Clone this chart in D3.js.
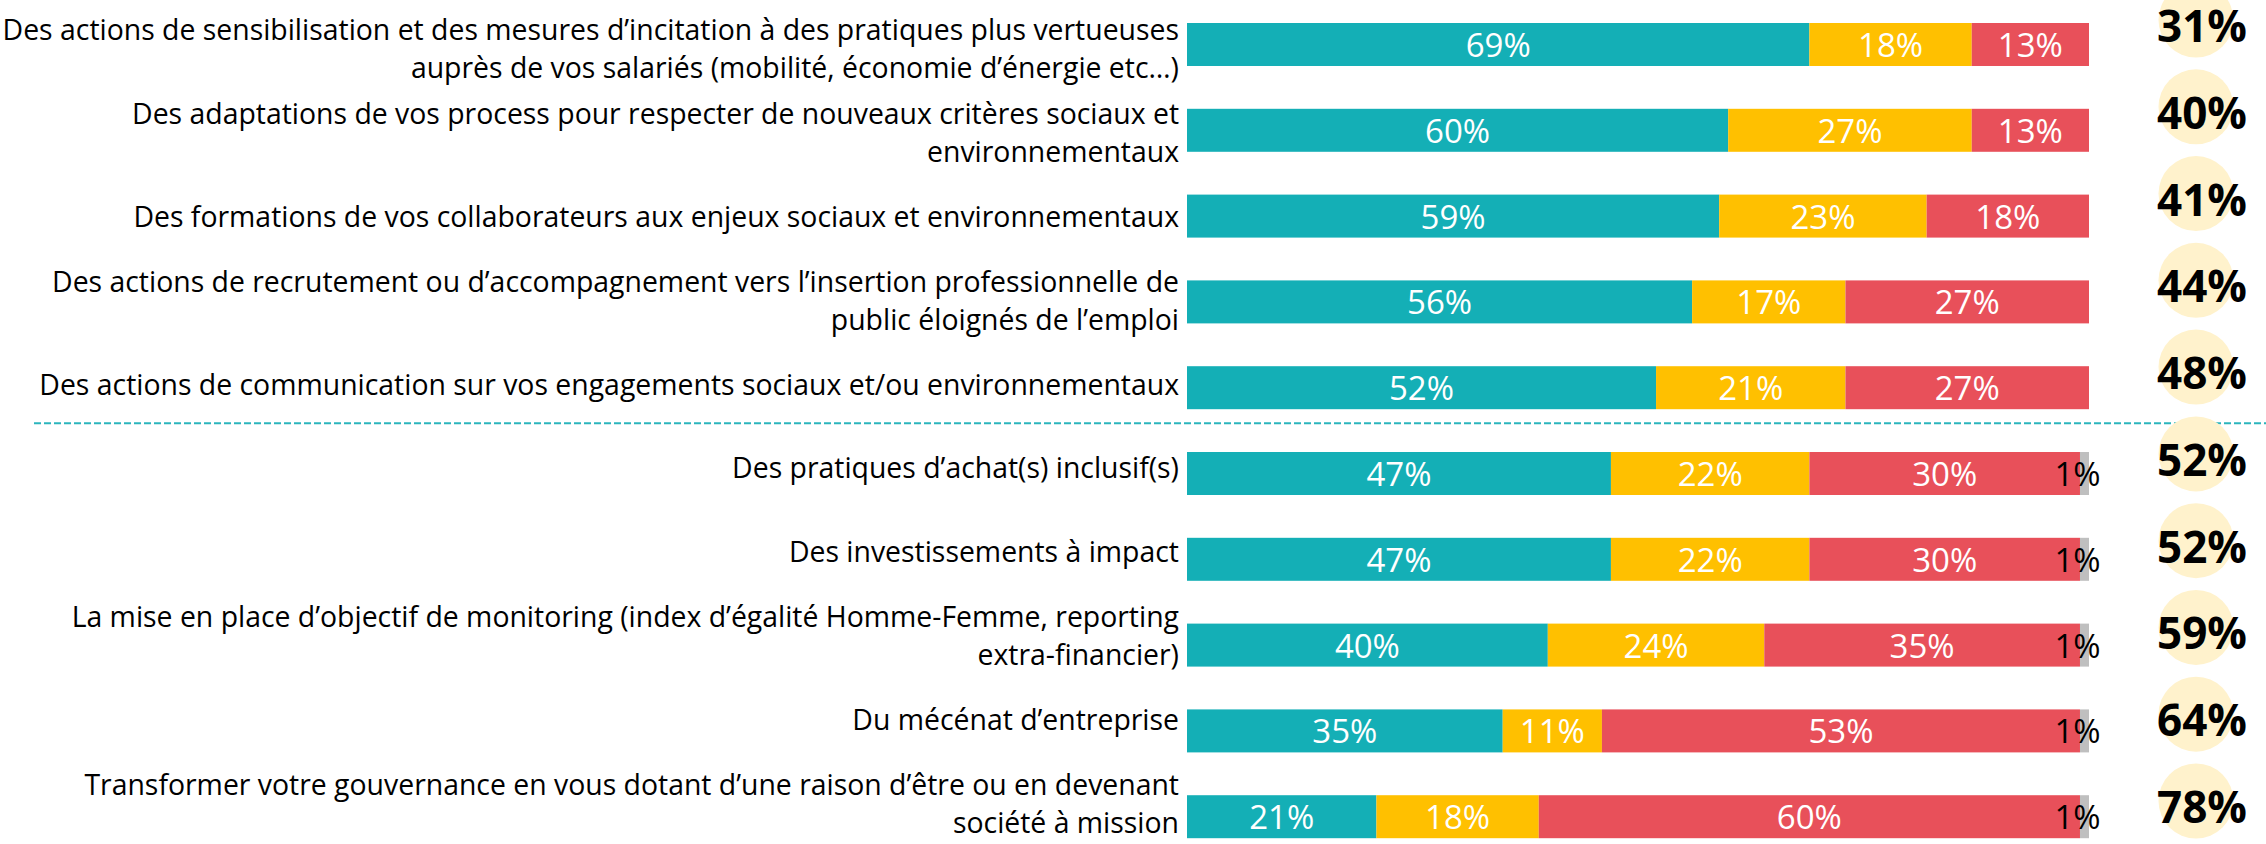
<!DOCTYPE html>
<html>
<head>
<meta charset="utf-8">
<script src="https://cdn.jsdelivr.net/npm/d3@7"></script>
<style>
  body { margin: 0; padding: 0; background: #fff; }
  svg { display: block; }
</style>
</head>
<body>
<div id="chart"></div>
<script>
  // row labels (already split into lines as in the original)
  const labels = [
    ["Des actions de sensibilisation et des mesures d’incitation à des pratiques plus vertueuses", "auprès de vos salariés (mobilité, économie d’énergie etc…)"],
    ["Des adaptations de vos process pour respecter de nouveaux critères sociaux et", "environnementaux"],
    ["Des formations de vos collaborateurs aux enjeux sociaux et environnementaux"],
    ["Des actions de recrutement ou d’accompagnement vers l’insertion professionnelle de", "public éloignés de l’emploi"],
    ["Des actions de communication sur vos engagements sociaux et/ou environnementaux"],
    ["Des pratiques d’achat(s) inclusif(s)"],
    ["Des investissements à impact"],
    ["La mise en place d’objectif de monitoring (index d’égalité Homme-Femme, reporting", "extra-financier)"],
    ["Du mécénat d’entreprise"],
    ["Transformer votre gouvernance en vous dotant d’une raison d’être ou en devenant", "société à mission"]
  ];
  const teal   = [69, 60, 59, 56, 52, 47, 47, 40, 35, 21];
  const yellow = [18, 27, 23, 17, 21, 22, 22, 24, 11, 18];
  const red    = [13, 13, 18, 27, 27, 30, 30, 35, 53, 60];
  const grey   = [0, 0, 0, 0, 0, 1, 1, 1, 1, 1];
  const totals = [31, 40, 41, 44, 48, 52, 52, 59, 64, 78];
  const splitAfter = 5; // dashed separator after the 5th row

  const width = 2266, height = 844;
  const series = [
    { key: "teal", values: teal, color: "#14afb6", text: "#fff" },
    { key: "yellow", values: yellow, color: "#ffc000", text: "#fff" },
    { key: "red", values: red, color: "#e8505a", text: "#fff" },
    { key: "grey", values: grey, color: "#bfbfbf", text: "#000" }
  ];

  const svg = d3.select("#chart").append("svg")
    .attr("width", width).attr("height", height);

  const x = d3.scaleLinear().domain([0, 100]).range([1187, 2089]);
  const y = d3.scaleBand().domain(d3.range(labels.length))
    .range([23, 838.2]).paddingInner(0.499).paddingOuter(0);
  // labels and circles are laid out on their own slightly different grids
  const yl = d3.scalePoint().domain(d3.range(labels.length)).range([59, 814]);
  const yc = d3.scalePoint().domain(d3.range(labels.length)).range([20, 801]);

  // stacked segments
  const rows = labels.map((l, i) => {
    let acc = 0;
    return series.map(s => {
      const seg = { row: i, x0: acc, x1: acc + s.values[i], v: s.values[i], s: s };
      acc += s.values[i];
      return seg;
    }).filter(d => d.v > 0);
  });
  const segs = rows.flat();

  svg.append("g").selectAll("rect").data(segs).enter().append("rect")
    .attr("x", d => x(d.x0))
    .attr("y", d => y(d.row))
    .attr("width", d => x(d.x1) - x(d.x0))
    .attr("height", y.bandwidth())
    .attr("fill", d => d.s.color);

  svg.append("g").selectAll("text").data(segs).enter().append("text")
    .attr("x", d => (x(d.x0) + x(d.x1)) / 2 - (d.s.key === "grey" ? 7 : 0))
    .attr("y", d => y(d.row) + y.bandwidth() / 2 + 12.5)
    .attr("text-anchor", "middle")
    .attr("font-family", "'Open Sans', sans-serif")
    .attr("font-size", 33)
    .attr("fill", d => d.s.text)
    .text(d => d.v + "%");

  // row labels, right aligned against the bars
  const lineH = 38;
  const lab = svg.append("g").selectAll("text").data(labels).enter().append("text")
    .attr("text-anchor", "end")
    .attr("font-family", "'Open Sans', sans-serif")
    .attr("font-size", 28.4)
    .attr("fill", "#000")
    .attr("y", (d, i) => yl(i) - (d.length - 1) * lineH / 2);
  lab.selectAll("tspan").data(d => d).enter().append("tspan")
    .attr("x", 1179)
    .attr("dy", (d, j) => j === 0 ? 0 : lineH)
    .text(d => d);

  // dashed separator
  const sepY = y(splitAfter - 1) + y.bandwidth() + (y.step() - y.bandwidth()) * 0.33;
  svg.append("line")
    .attr("x1", 34).attr("x2", width)
    .attr("y1", sepY).attr("y2", sepY)
    .attr("stroke", "#2bb5bd")
    .attr("stroke-width", 2)
    .attr("stroke-dasharray", "7 3");

  // totals in circles
  const tot = svg.append("g").selectAll("g").data(totals).enter().append("g");
  tot.append("circle")
    .attr("cx", 2196).attr("cy", (d, i) => yc(i))
    .attr("r", 37.5)
    .attr("fill", "#fff2cc");
  tot.append("text")
    .attr("x", 2202).attr("y", (d, i) => yc(i) + 22)
    .attr("text-anchor", "middle")
    .attr("font-family", "'Open Sans', sans-serif")
    .attr("font-weight", "bold")
    .attr("font-size", 44)
    .attr("fill", "#000")
    .text(d => d + "%");
</script>
</body>
</html>
